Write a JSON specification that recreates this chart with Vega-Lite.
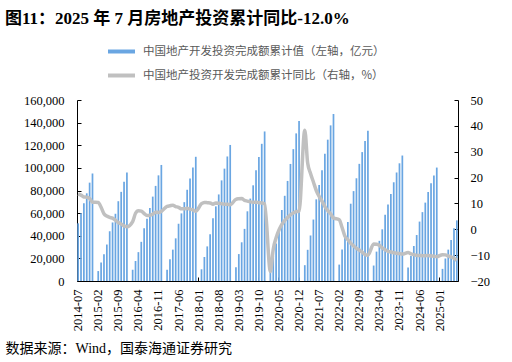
{
  "$schema": "https://vega.github.io/schema/vega-lite/v6.json",
  "width": 381,
  "height": 181,
  "autosize": {"type": "none"},
  "padding": {"left": 77, "top": 100, "right": 54, "bottom": 81},
  "background": "#ffffff",
  "title": {
    "text": "图11：2025 年 7 月房地产投资累计同比-12.0%",
    "anchor": "start",
    "frame": "group",
    "dx": -72,
    "offset": 8,
    "font": "Liberation Serif, Noto Sans CJK SC",
    "fontSize": 17,
    "fontWeight": "bold",
    "color": "#000000"
  },
  "data": {
    "values": [
      {"m": "2014-07", "v": 50982, "g": 13.7},
      {"m": "2014-08", "v": 60000, "g": 13.2},
      {"m": "2014-09", "v": 68751, "g": 12.5},
      {"m": "2014-10", "v": 77500, "g": 12.4},
      {"m": "2014-11", "v": 86948, "g": 11.9},
      {"m": "2014-12", "v": 95036, "g": 10.5},
      {"m": "2015-01", "v": null, "g": null},
      {"m": "2015-02", "v": 8786, "g": 10.4},
      {"m": "2015-03", "v": 16430, "g": 8.5},
      {"m": "2015-04", "v": 23670, "g": 6.0},
      {"m": "2015-05", "v": 32246, "g": 5.1},
      {"m": "2015-06", "v": 43955, "g": 4.6},
      {"m": "2015-07", "v": 51751, "g": 4.3},
      {"m": "2015-08", "v": 59431, "g": 3.5},
      {"m": "2015-09", "v": 70535, "g": 2.6},
      {"m": "2015-10", "v": 78801, "g": 2.0},
      {"m": "2015-11", "v": 87702, "g": 1.3},
      {"m": "2015-12", "v": 95979, "g": 1.0},
      {"m": "2016-01", "v": null, "g": null},
      {"m": "2016-02", "v": 9950, "g": 3.0},
      {"m": "2016-03", "v": 17677, "g": 6.2},
      {"m": "2016-04", "v": 25512, "g": 7.2},
      {"m": "2016-05", "v": 34627, "g": 7.0},
      {"m": "2016-06", "v": 46631, "g": 6.1},
      {"m": "2016-07", "v": 55128, "g": 5.3},
      {"m": "2016-08", "v": 64600, "g": 5.4},
      {"m": "2016-09", "v": 74598, "g": 5.8},
      {"m": "2016-10", "v": 84071, "g": 6.6},
      {"m": "2016-11", "v": 93387, "g": 6.5},
      {"m": "2016-12", "v": 102581, "g": 6.9},
      {"m": "2017-01", "v": null, "g": null},
      {"m": "2017-02", "v": 9854, "g": 8.9},
      {"m": "2017-03", "v": 19292, "g": 9.1},
      {"m": "2017-04", "v": 27732, "g": 9.3},
      {"m": "2017-05", "v": 37703, "g": 8.8},
      {"m": "2017-06", "v": 50610, "g": 8.5},
      {"m": "2017-07", "v": 59761, "g": 7.9},
      {"m": "2017-08", "v": 69694, "g": 7.9},
      {"m": "2017-09", "v": 80644, "g": 8.1},
      {"m": "2017-10", "v": 90544, "g": 7.8},
      {"m": "2017-11", "v": 100387, "g": 7.5},
      {"m": "2017-12", "v": 109799, "g": 7.0},
      {"m": "2018-01", "v": null, "g": null},
      {"m": "2018-02", "v": 10357, "g": 9.9},
      {"m": "2018-03", "v": 21292, "g": 10.4},
      {"m": "2018-04", "v": 30592, "g": 10.3},
      {"m": "2018-05", "v": 41420, "g": 10.2},
      {"m": "2018-06", "v": 55531, "g": 9.7},
      {"m": "2018-07", "v": 65951, "g": 10.2},
      {"m": "2018-08", "v": 76519, "g": 10.1},
      {"m": "2018-09", "v": 88948, "g": 9.9},
      {"m": "2018-10", "v": 99325, "g": 9.7},
      {"m": "2018-11", "v": 110083, "g": 9.7},
      {"m": "2018-12", "v": 120264, "g": 9.5},
      {"m": "2019-01", "v": null, "g": null},
      {"m": "2019-02", "v": 12090, "g": 11.6},
      {"m": "2019-03", "v": 23803, "g": 11.8},
      {"m": "2019-04", "v": 34217, "g": 11.9},
      {"m": "2019-05", "v": 46075, "g": 11.2},
      {"m": "2019-06", "v": 61609, "g": 10.9},
      {"m": "2019-07", "v": 72843, "g": 10.6},
      {"m": "2019-08", "v": 84589, "g": 10.5},
      {"m": "2019-09", "v": 98008, "g": 10.5},
      {"m": "2019-10", "v": 109603, "g": 10.3},
      {"m": "2019-11", "v": 121265, "g": 10.2},
      {"m": "2019-12", "v": 132194, "g": 9.9},
      {"m": "2020-01", "v": null, "g": null},
      {"m": "2020-02", "v": 10115, "g": -16.3},
      {"m": "2020-03", "v": 21963, "g": -7.7},
      {"m": "2020-04", "v": 33103, "g": -3.3},
      {"m": "2020-05", "v": 45920, "g": -0.3},
      {"m": "2020-06", "v": 62780, "g": 1.9},
      {"m": "2020-07", "v": 75325, "g": 3.4},
      {"m": "2020-08", "v": 88454, "g": 4.6},
      {"m": "2020-09", "v": 103484, "g": 5.6},
      {"m": "2020-10", "v": 116556, "g": 6.3},
      {"m": "2020-11", "v": 130492, "g": 6.8},
      {"m": "2020-12", "v": 141443, "g": 7.0},
      {"m": "2021-01", "v": null, "g": null},
      {"m": "2021-02", "v": 13986, "g": 38.3},
      {"m": "2021-03", "v": 27576, "g": 25.6},
      {"m": "2021-04", "v": 40240, "g": 21.6},
      {"m": "2021-05", "v": 54318, "g": 18.3},
      {"m": "2021-06", "v": 72179, "g": 15.0},
      {"m": "2021-07", "v": 84895, "g": 12.7},
      {"m": "2021-08", "v": 98011, "g": 10.9},
      {"m": "2021-09", "v": 112568, "g": 8.8},
      {"m": "2021-10", "v": 124934, "g": 7.2},
      {"m": "2021-11", "v": 137567, "g": 6.0},
      {"m": "2021-12", "v": 147602, "g": 4.4},
      {"m": "2022-01", "v": null, "g": null},
      {"m": "2022-02", "v": 14499, "g": 3.7},
      {"m": "2022-03", "v": 27765, "g": 0.7},
      {"m": "2022-04", "v": 39154, "g": -2.7},
      {"m": "2022-05", "v": 52134, "g": -4.0},
      {"m": "2022-06", "v": 68314, "g": -5.4},
      {"m": "2022-07", "v": 79462, "g": -6.4},
      {"m": "2022-08", "v": 90809, "g": -7.4},
      {"m": "2022-09", "v": 103559, "g": -8.0},
      {"m": "2022-10", "v": 113945, "g": -8.8},
      {"m": "2022-11", "v": 123863, "g": -9.8},
      {"m": "2022-12", "v": 132895, "g": -10.0},
      {"m": "2023-01", "v": null, "g": null},
      {"m": "2023-02", "v": 13669, "g": -5.7},
      {"m": "2023-03", "v": 25974, "g": -5.8},
      {"m": "2023-04", "v": 35514, "g": -6.2},
      {"m": "2023-05", "v": 45701, "g": -7.2},
      {"m": "2023-06", "v": 58550, "g": -7.9},
      {"m": "2023-07", "v": 67717, "g": -8.5},
      {"m": "2023-08", "v": 76900, "g": -8.8},
      {"m": "2023-09", "v": 87269, "g": -9.1},
      {"m": "2023-10", "v": 95922, "g": -9.3},
      {"m": "2023-11", "v": 104045, "g": -9.4},
      {"m": "2023-12", "v": 110913, "g": -9.6},
      {"m": "2024-01", "v": null, "g": null},
      {"m": "2024-02", "v": 11842, "g": -9.0},
      {"m": "2024-03", "v": 22082, "g": -9.5},
      {"m": "2024-04", "v": 30928, "g": -9.8},
      {"m": "2024-05", "v": 40632, "g": -10.1},
      {"m": "2024-06", "v": 52529, "g": -10.1},
      {"m": "2024-07", "v": 60877, "g": -10.2},
      {"m": "2024-08", "v": 69284, "g": -10.2},
      {"m": "2024-09", "v": 78680, "g": -10.1},
      {"m": "2024-10", "v": 86309, "g": -10.3},
      {"m": "2024-11", "v": 93362, "g": -10.4},
      {"m": "2024-12", "v": 100280, "g": -10.6},
      {"m": "2025-01", "v": null, "g": null},
      {"m": "2025-02", "v": 10720, "g": -9.8},
      {"m": "2025-03", "v": 19904, "g": -9.9},
      {"m": "2025-04", "v": 27730, "g": -10.3},
      {"m": "2025-05", "v": 36234, "g": -10.7},
      {"m": "2025-06", "v": 46658, "g": -11.2},
      {"m": "2025-07", "v": 53580, "g": -12.0}
    ]
  },
  "layer": [
    {
      "mark": {"type": "bar", "invalid": "show", "cornerRadius": 0},
      "encoding": {
        "x": {
          "field": "m",
          "type": "ordinal",
          "scale": {"paddingInner": 0.4, "paddingOuter": 0.1},
          "axis": {
            "values": ["2014-07","2015-02","2015-09","2016-04","2016-11","2017-06","2018-01","2018-08","2019-03","2019-10","2020-05","2020-12","2021-07","2022-02","2022-09","2023-04","2023-11","2024-06","2025-01"],
            "labelAngle": -90,
            "labelPadding": 12,
            "tickSize": -4,
            "title": "数据来源：Wind，国泰海通证券研究",
            "titleAnchor": "start",
            "titleAlign": "left",
            "titleBaseline": "middle",
            "titleX": -72,
            "titleY": 67,
            "titleFont": "Liberation Serif, Noto Sans CJK SC",
            "titleFontSize": 14,
            "titleFontWeight": "normal",
            "titleColor": "#000000"
          }
        },
        "y": {
          "field": "v",
          "type": "quantitative",
          "scale": {"domain": [0, 160000], "nice": false},
          "axis": {
            "values": [0, 20000, 40000, 60000, 80000, 100000, 120000, 140000, 160000],
            "format": ",d",
            "title": null,
            "tickSize": -4,
            "labelPadding": 17
          }
        },
        "color": {
          "datum": "中国地产开发投资完成额累计值（左轴，亿元）",
          "type": "nominal",
          "scale": {
            "domain": ["中国地产开发投资完成额累计值（左轴，亿元）", "中国地产投资开发完成额累计同比（右轴，%）"],
            "range": ["#6aa6e2", "#c0c0c0"]
          },
          "legend": {
            "orient": "none",
            "legendX": 29,
            "legendY": -64,
            "direction": "vertical",
            "title": null,
            "padding": 0,
            "symbolType": "stroke",
            "symbolSize": 729,
            "symbolStrokeWidth": 4,
            "rowPadding": -5,
            "labelFont": "Noto Sans CJK SC",
            "labelFontSize": 11.5,
            "labelColor": "#595959",
            "labelLimit": 400,
            "labelOffset": 6
          }
        }
      }
    },
    {
      "transform": [{"filter": "datum.g != null"}],
      "mark": {"type": "line", "strokeWidth": 3.5, "interpolate": "monotone"},
      "encoding": {
        "x": {"field": "m", "type": "ordinal"},
        "y": {
          "field": "g",
          "type": "quantitative",
          "scale": {"domain": [-20, 50], "nice": false},
          "axis": {
            "orient": "right",
            "values": [-20, -10, 0, 10, 20, 30, 40, 50],
            "title": null,
            "tickSize": -4,
            "labelPadding": 16
          }
        },
        "color": {"datum": "中国地产投资开发完成额累计同比（右轴，%）", "type": "nominal"}
      }
    }
  ],
  "resolve": {"scale": {"y": "independent"}},
  "config": {
    "view": {"stroke": null},
    "axis": {
      "grid": false,
      "labelFont": "Liberation Serif",
      "labelFontSize": 12.5,
      "labelColor": "#000000",
      "domainColor": "#000000",
      "tickColor": "#000000",
      "domainWidth": 1
    }
  }
}
